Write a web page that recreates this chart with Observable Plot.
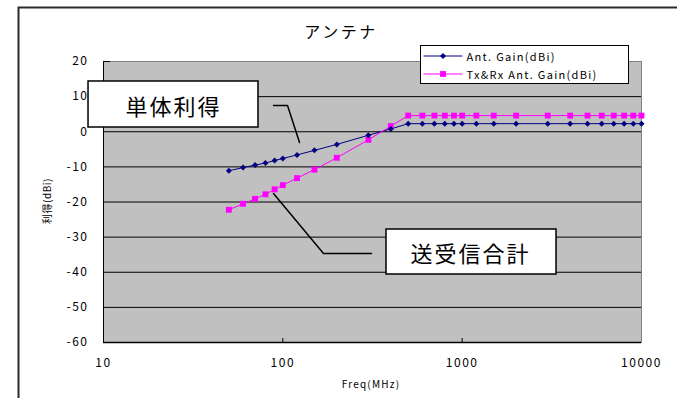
<!DOCTYPE html>
<html>
<head>
<meta charset="utf-8">
<script src="https://cdn.jsdelivr.net/npm/d3@7"></script>
<script src="https://cdn.jsdelivr.net/npm/@observablehq/plot@0.6"></script>
<style>
  html, body { margin: 0; padding: 0; background: #fff; }
  #wrap { position: relative; width: 677px; height: 398px; overflow: hidden; background: #fff; }
  #wrap > svg { position: absolute; left: 0; top: 0; }
  #chart svg text { letter-spacing: 1.5px; }
  #chart g[aria-label="text"] text { letter-spacing: 2px; }
  #overlay { position: absolute; left: 0; top: 0; pointer-events: none; }
</style>
</head>
<body>
<div id="wrap">
  <div id="chart"></div>
  <svg id="overlay" width="677" height="398"></svg>
</div>
<script>
// ---- data ----
const freqs = [50, 60, 70, 80, 90, 100, 120, 150, 200, 300, 400, 500, 600, 700, 800, 900,
               1000, 1200, 1500, 2000, 3000, 4000, 5000, 6000, 7000, 8000, 9000, 10000];
const antGain = [-11.1, -10.2, -9.5, -8.9, -8.2, -7.6, -6.6, -5.3, -3.6, -1.0, 0.8,
                 2.3, 2.3, 2.3, 2.3, 2.3, 2.3, 2.3, 2.3, 2.3, 2.3, 2.3, 2.3, 2.3, 2.3, 2.3, 2.3, 2.3];
const txrxGain = [-22.2, -20.5, -19.1, -17.8, -16.4, -15.2, -13.2, -10.8, -7.4, -2.3, 1.6,
                  4.6, 4.6, 4.6, 4.6, 4.6, 4.6, 4.6, 4.6, 4.6, 4.6, 4.6, 4.6, 4.6, 4.6, 4.6, 4.6, 4.6];
const seriesNames = ["Ant. Gain(dBi)", "Tx&Rx Ant. Gain(dBi)"];
const xTicks = [10, 100, 1000, 10000];
const yTicks = [-60, -50, -40, -30, -20, -10, 0, 10, 20];
const titleText = "アンテナ";
const xLabel = "Freq(MHz)";
const yLabel = "利得(dBi)";

// ---- callout annotations (in data units) ----
const calloutLabels = ["単体利得", "送受信合計"];
const calloutBoxes = [
  {x1: 8.25, x2: 73.15, y1: 1.21, y2: 14.31},
  {x1: 378.5, x2: 3358, y1: -40.64, y2: -27.83}
];
const calloutText = [
  {f: 24.57, g: 6.9},
  {f: 1113, g: -35.0}
];
const leaders = [
  {id: 0, f: 88.7, g: 7.47}, {id: 0, f: 106.2, g: 7.47}, {id: 0, f: 123.9, g: -3.06},
  {id: 1, f: 88.7, g: -17.58}, {id: 1, f: 168.6, g: -34.66}, {id: 1, f: 312.3, g: -34.66}
];

// ---- build tables ----
const colors = ["#000080", "#ff00ff"];
const ant = freqs.map((f, i) => ({f, g: antGain[i]}));
const txrx = freqs.map((f, i) => ({f, g: txrxGain[i]}));
const boxes = calloutBoxes.map((b, i) => ({...b, label: calloutLabels[i]}));
const texts = calloutText.map((t, i) => ({...t, label: calloutLabels[i]}));

const W = 677, H = 398, mL = 103, mR = 36, mT = 61, mB = 56;
const plotH = H - mT - mB;
const yDom = [-60, 20];
const unitsPerPx = (yDom[1] - yDom[0]) / plotH;

const fmt = d => (d < 0 ? "-" + Math.abs(d) : String(d));

const chart = Plot.plot({
  width: W, height: H,
  marginLeft: mL, marginRight: mR, marginTop: mT, marginBottom: mB,
  style: {fontFamily: "'Noto Sans CJK JP', sans-serif", fontSize: "12px", color: "#000", background: "transparent", overflow: "visible"},
  x: {type: "log", domain: [10, 10000], ticks: xTicks, tickFormat: d => String(d), tickSize: 0, tickPadding: 16, label: null},
  y: {domain: yDom, ticks: yTicks, tickFormat: fmt, tickSize: 0, tickPadding: 15, label: null},
  marks: [
    Plot.frame({fill: "#c0c0c0", stroke: "#808080"}),
    Plot.ruleY(yTicks.filter(v => v > -60 && v < 20), {stroke: "#000", strokeWidth: 1}),
    Plot.ruleY([20], {x1: 10, x2: 10 * Math.pow(10, 7 / 179.33), stroke: "#000"}),
    Plot.ruleX(xTicks.slice(1, 3), {y1: -60, y2: -60 + 4 * unitsPerPx, stroke: "#000"}),
    Plot.ruleX([10], {stroke: "#000", strokeWidth: 1}),
    Plot.ruleY([-60], {stroke: "#000", strokeWidth: 1.5}),
    Plot.line(ant, {x: "f", y: "g", stroke: colors[0], strokeWidth: 1}),
    Plot.line(txrx, {x: "f", y: "g", stroke: colors[1], strokeWidth: 1}),
    Plot.dot(txrx, {x: "f", y: "g", symbol: "square", r: 3.3, fill: colors[1], stroke: "none"}),
    Plot.dot(ant, {x: "f", y: "g", symbol: "diamond2", r: 2.7, fill: colors[0], stroke: "none"}),
    Plot.line(leaders, {x: "f", y: "g", z: "id", stroke: "#000", strokeWidth: 1.5, curve: "linear"}),
    Plot.rect(boxes, {x1: "x1", x2: "x2", y1: "y1", y2: "y2", fill: "#fff", stroke: "#000", strokeWidth: 1.5}),
    Plot.text(texts, {x: "f", y: "g", text: "label", fontSize: 22, fill: "#000", textAnchor: "middle", lineAnchor: "middle"})
  ]
});
document.getElementById("chart").appendChild(chart);

// ---- overlay: outer frame, title, axis titles, legend ----
const ov = d3.select("#overlay");
const ff = "'Noto Sans CJK JP', sans-serif";
ov.append("rect").attr("x", 18.5).attr("y", 7.5).attr("width", 720).attr("height", 500)
  .attr("fill", "none").attr("stroke", "#2a2a2a").attr("stroke-width", 2);
ov.append("text").text(titleText).attr("x", 341).attr("y", 31)
  .attr("text-anchor", "middle").attr("dominant-baseline", "central")
  .style("font-family", ff).style("font-size", "16px").style("letter-spacing", "2.5px");
ov.append("text").text(xLabel).attr("x", 371).attr("y", 383)
  .attr("text-anchor", "middle").attr("dominant-baseline", "central")
  .style("font-family", ff).style("font-size", "10px").style("letter-spacing", "1.2px");
ov.append("text").text(yLabel).attr("transform", "translate(46,201) rotate(-90)")
  .attr("text-anchor", "middle").attr("dominant-baseline", "central")
  .style("font-family", ff).style("font-size", "10px").style("letter-spacing", "0.5px");

const lg = ov.append("g").attr("transform", "translate(420.5,45.5)");
lg.append("rect").attr("width", 208).attr("height", 38).attr("fill", "#fff").attr("stroke", "#000").attr("stroke-width", 1);
seriesNames.forEach((name, i) => {
  const cy = 10.5 + i * 18;
  lg.append("line").attr("x1", 3).attr("x2", 42).attr("y1", cy).attr("y2", cy)
    .attr("stroke", colors[i]).attr("stroke-width", 1);
  lg.append("path").attr("transform", `translate(22.5,${cy})`)
    .attr("d", d3.symbol(i === 0 ? d3.symbolDiamond2 : d3.symbolSquare, i === 0 ? 24 : 34)())
    .attr("fill", colors[i]);
  lg.append("text").text(name).attr("x", 46).attr("y", cy).attr("dominant-baseline", "central")
    .style("font-family", ff).style("font-size", "11px").style("letter-spacing", "1.3px");
});
</script>
</body>
</html>
